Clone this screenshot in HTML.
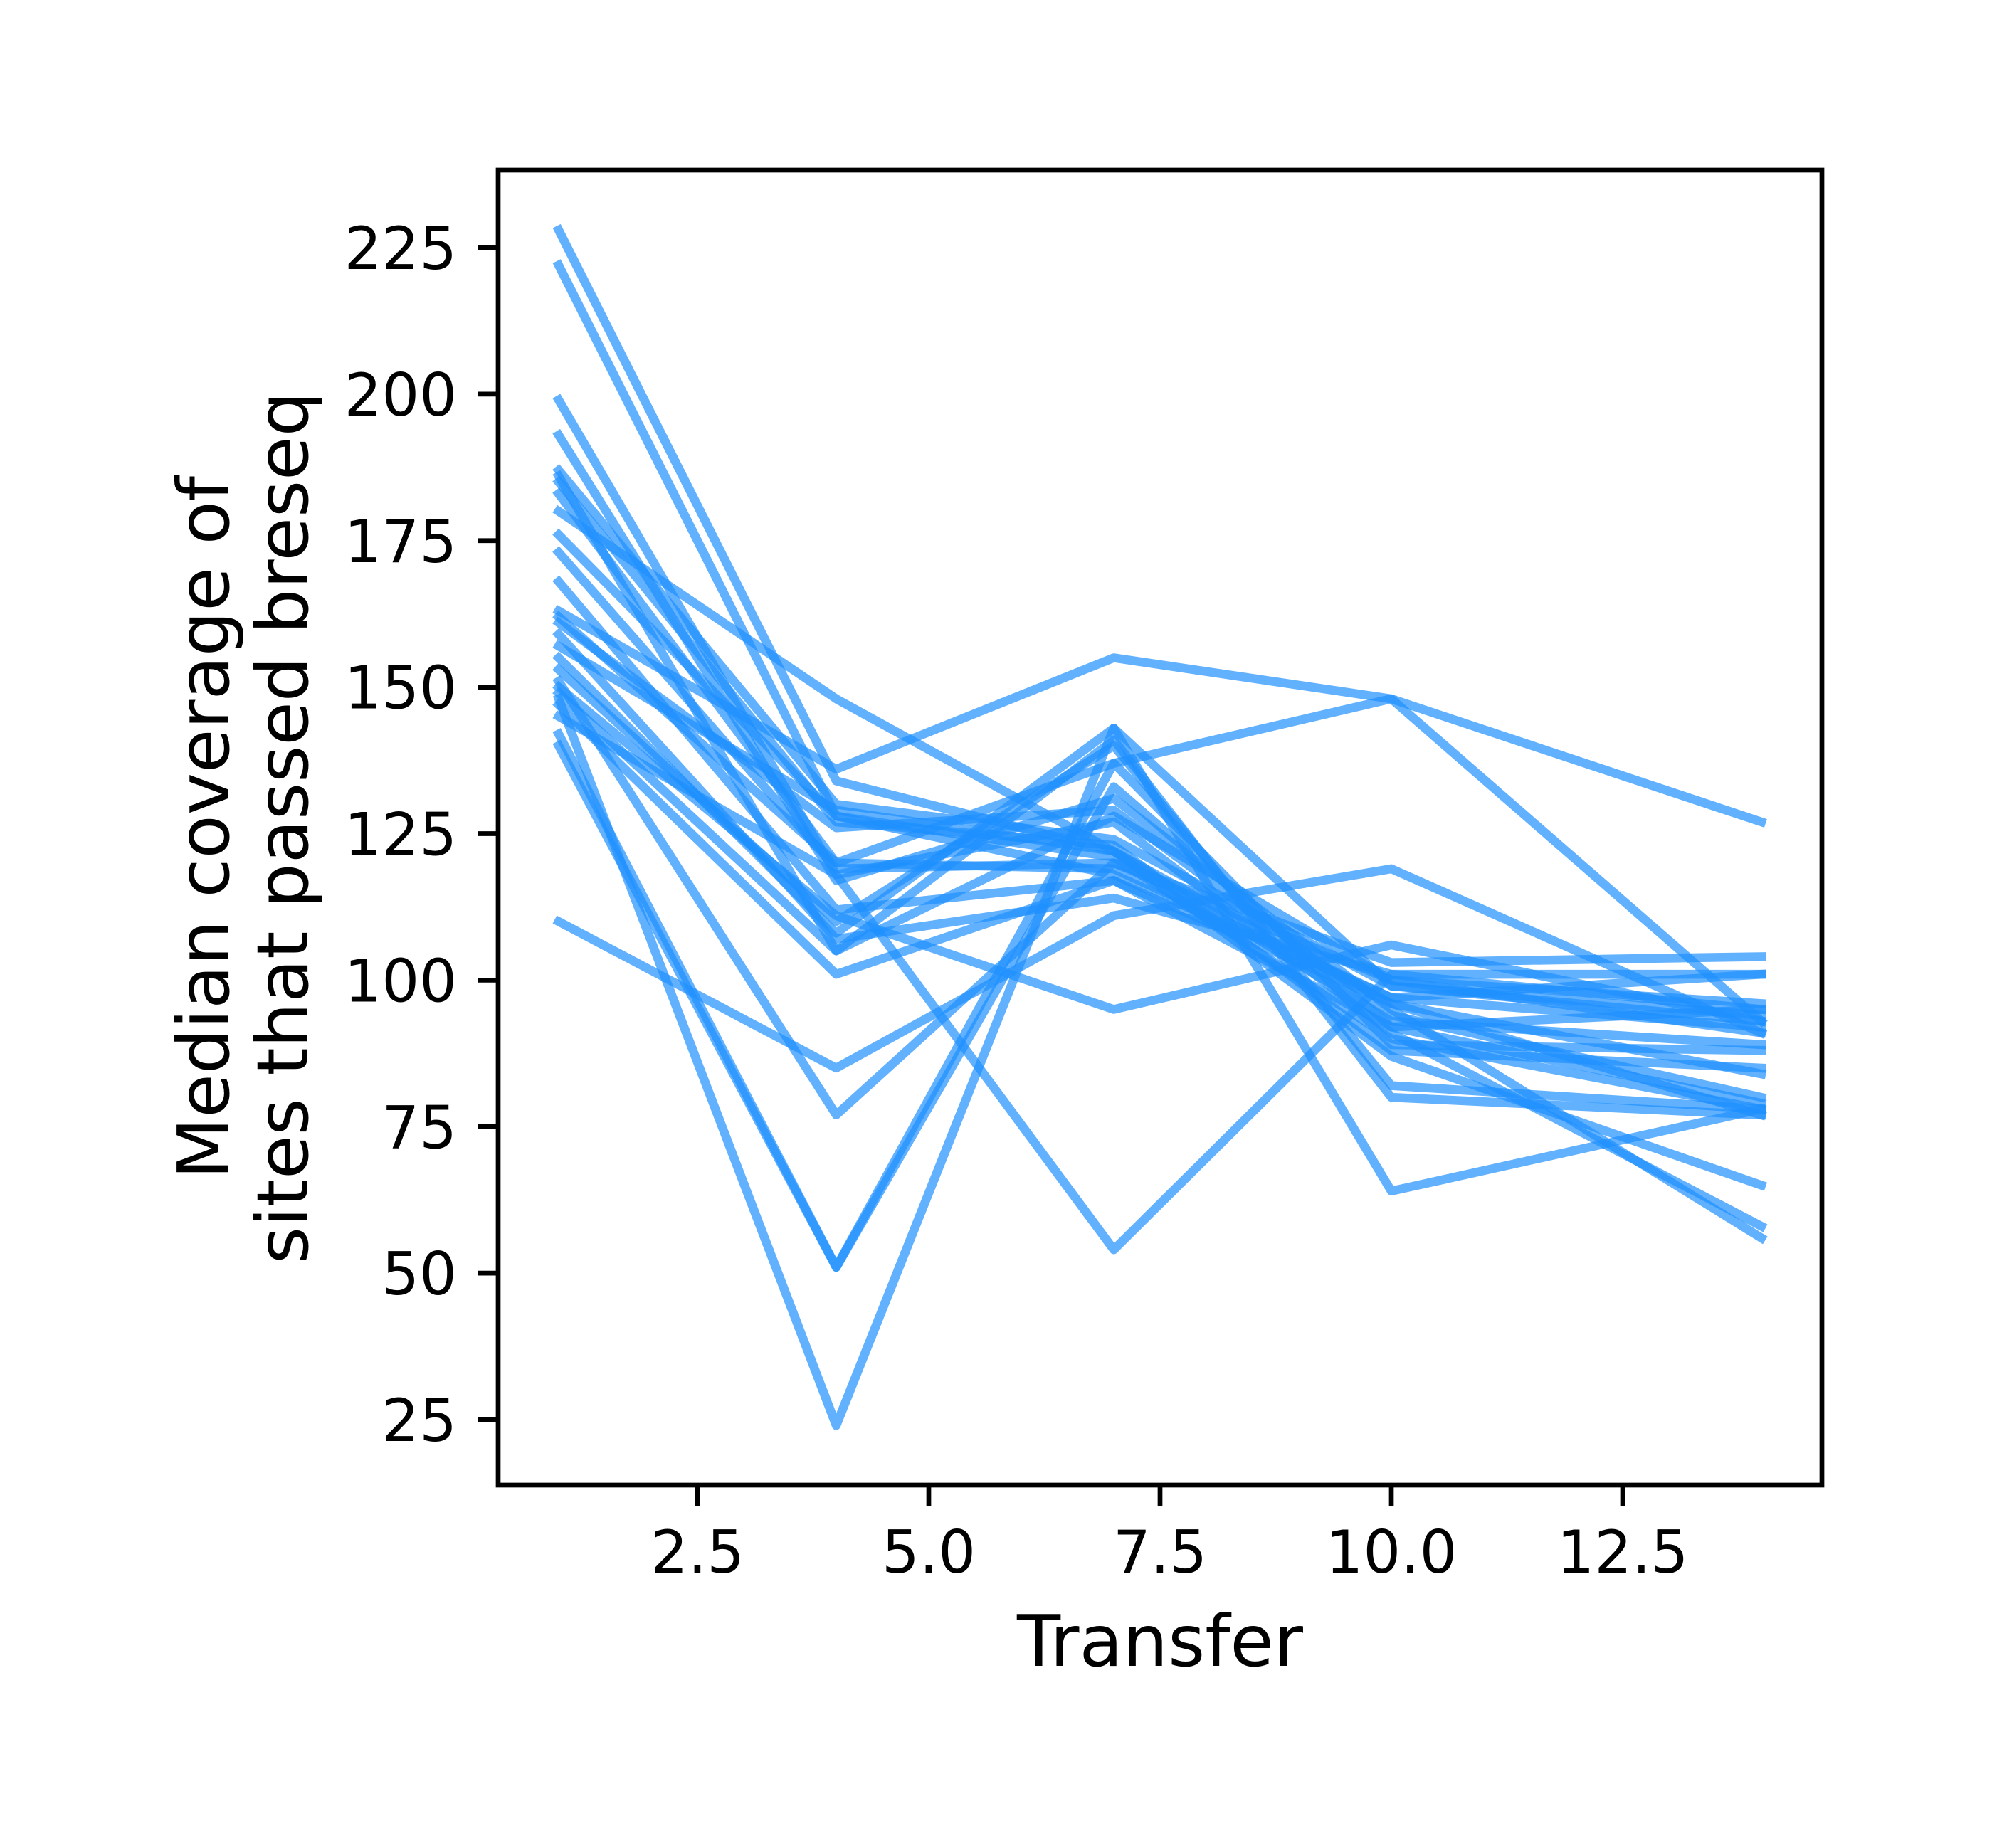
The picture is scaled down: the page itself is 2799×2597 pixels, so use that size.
<!DOCTYPE html>
<html><head><meta charset="utf-8"><style>
html,body{margin:0;padding:0;background:#fff;}
svg{display:block;}
text{font-family:"DejaVu Sans","Liberation Sans",sans-serif;fill:#000;}
</style></head>
<body>
<svg id="chart" width="2799" height="2597" viewBox="0 0 2799 2597" xmlns="http://www.w3.org/2000/svg">
<rect x="0" y="0" width="2799" height="2597" fill="#fff"/>
<g id="lines"></g>
<g id="axes"></g>
<text x="1630" y="2341" font-size="100" text-anchor="middle">Transfer</text>
<g transform="translate(0,1163) rotate(-90)">
<text x="0" y="321" font-size="100" text-anchor="middle">Median coverage of</text>
<text x="0" y="432" font-size="100" text-anchor="middle">sites that passed breseq</text>
</g>
</svg>
<script>
const transfers = [1, 4, 7, 10, 14];
const s01 = [228, 134, 122, 96, 77];
const s02 = [222, 128, 121, 90, 78];
const s03 = [199, 118, 127, 91, 58];
const s04 = [193, 117, 131, 95, 56];
const s05 = [187, 130, 124, 99, 94];
const s06 = [186, 105, 128, 100, 96];
const s07 = [185, 127, 123, 88, 85];
const s08 = [183, 120, 119, 97, 101];
const s09 = [180, 148, 122, 93, 89];
const s10 = [176, 128, 118, 97, 92];
const s11 = [173, 119, 120, 100, 91];
const s12 = [168, 112, 117, 96, 84];
const s13 = [163, 136, 155, 148, 127];
const s14 = [161, 126, 129, 94, 80];
const s15 = [159, 107, 114, 101, 101];
const s16 = [157, 129, 122, 87, 65];
const s17 = [155, 108, 143, 99, 93];
const s18 = [153, 110, 140, 82, 78];
const s19 = [151, 77, 120, 103, 104];
const s20 = [149, 105, 141, 80, 77];
const s21 = [148, 24, 143, 64, 78];
const s22 = [142, 51, 137, 89, 88];
const s23 = [140, 51, 133, 92, 95];
const s24 = [147, 101, 117, 92, 79];
const s25 = [110, 85, 111, 119, 91];
const s26 = [150, 111, 95, 106, 93];
const s27 = [145, 118, 54, 101, 95];
const s28 = [162, 120, 137, 148, 93];
const series = [s01,s02,s03,s04,s05,s06,s07,s08,s09,s10,s11,s12,s13,s14,s15,s16,s17,s18,s19,s20,s21,s22,s23,s24,s25,s26,s27,s28];
const xTicks = [2.5, 5.0, 7.5, 10.0, 12.5];
const xTickLabels = ["2.5", "5.0", "7.5", "10.0", "12.5"];
const yTicks = [25, 50, 75, 100, 125, 150, 175, 200, 225];
const yTickLabels = ["25", "50", "75", "100", "125", "150", "175", "200", "225"];

const NS = "http://www.w3.org/2000/svg";
const L = 700, R = 2560, T = 239, B = 2087;
function xs(v){ return 980 + (v - 2.5) * 130; }
function ys(v){ return 348 + (225 - v) * 8.235; }

const lg = document.getElementById('lines');
series.forEach((s, i) => {
  const p = document.createElementNS(NS, 'polyline');
  p.setAttribute('points', s.map((v, j) => xs(transfers[j]) + ',' + ys(v)).join(' '));
  p.setAttribute('fill', 'none');
  p.setAttribute('stroke', '#1e90ff');
  p.setAttribute('stroke-opacity', '0.7');
  p.setAttribute('stroke-width', '12.5');
  p.setAttribute('stroke-linecap', 'square');
  p.setAttribute('stroke-linejoin', 'round');
  
  
  lg.appendChild(p);
});

const ax = document.getElementById('axes');
const frame = document.createElementNS(NS, 'rect');
frame.setAttribute('x', L); frame.setAttribute('y', T);
frame.setAttribute('width', R - L); frame.setAttribute('height', B - T);
frame.setAttribute('fill', 'none'); frame.setAttribute('stroke', '#000');
frame.setAttribute('stroke-width', '6.7');


ax.appendChild(frame);

xTicks.forEach((v, i) => {
  const t = document.createElementNS(NS, 'line');
  t.setAttribute('x1', xs(v)); t.setAttribute('x2', xs(v));
  t.setAttribute('y1', B); t.setAttribute('y2', B + 29);
  t.setAttribute('stroke', '#000'); t.setAttribute('stroke-width', '6.7');
  
  
  ax.appendChild(t);
  const tx = document.createElementNS(NS, 'text');
  tx.setAttribute('x', xs(v)); tx.setAttribute('y', 2210);
  tx.setAttribute('font-size', '83'); tx.setAttribute('text-anchor', 'middle');
  tx.textContent = xTickLabels[i];
  
  
  ax.appendChild(tx);
});
yTicks.forEach((v, i) => {
  const t = document.createElementNS(NS, 'line');
  t.setAttribute('x1', L - 29); t.setAttribute('x2', L);
  t.setAttribute('y1', ys(v)); t.setAttribute('y2', ys(v));
  t.setAttribute('stroke', '#000'); t.setAttribute('stroke-width', '6.7');
  
  
  ax.appendChild(t);
  const tx = document.createElementNS(NS, 'text');
  tx.setAttribute('x', 642); tx.setAttribute('y', ys(v) + 30);
  tx.setAttribute('font-size', '83'); tx.setAttribute('text-anchor', 'end');
  tx.textContent = yTickLabels[i];
  
  
  ax.appendChild(tx);
});
</script>
</body></html>
